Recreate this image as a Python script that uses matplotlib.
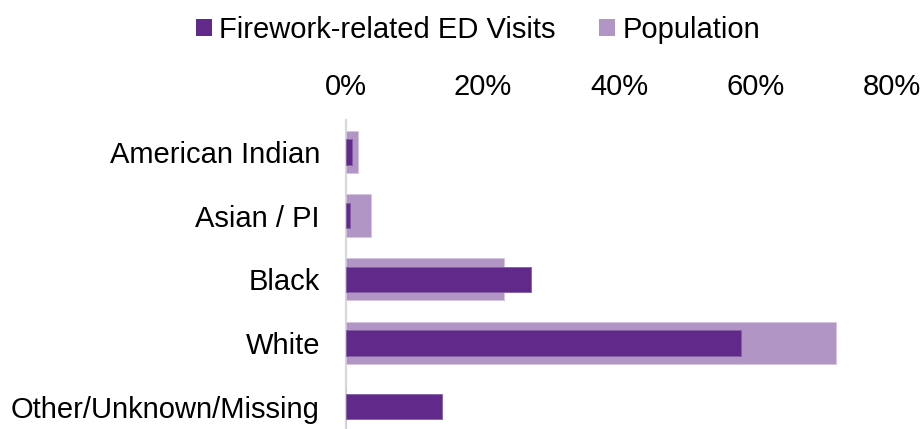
import matplotlib
matplotlib.use("Agg")
import matplotlib.pyplot as plt
from matplotlib.ticker import FuncFormatter, FixedLocator
from matplotlib.patches import Patch

plt.rcParams['font.family'] = ['Liberation Sans', 'DejaVu Sans']

categories = ["American Indian", "Asian / PI", "Black", "White", "Other/Unknown/Missing"]
ed_visits = [0.8, 0.5, 27.1, 57.9, 14.0]
population = [1.7, 3.6, 23.1, 71.8, 0.0]
tick_values = [0, 20, 40, 60, 80]
series_names = ["Firework-related ED Visits", "Population"]

dark = "#60298A"
light = "#B095C5"

fig = plt.figure(figsize=(9.23, 4.29), dpi=100)
W, H = 923, 429
x0, x1 = 346.3, 891.7
ytop, ybot = 120.0, 438.5
ax = fig.add_axes([x0 / W, 1 - ybot / H, (x1 - x0) / W, (ybot - ytop) / H])

ypos = list(range(len(categories)))
ax.barh(ypos, population, height=0.664, color=light, edgecolor="#D5C6E0", linewidth=0.6, zorder=2)
ax.barh(ypos, ed_visits, height=0.40, color=dark, edgecolor="#8460A6", linewidth=0.6, zorder=3)

ax.set_xlim(0, 80)
ax.set_ylim(len(categories) - 0.5, -0.5)
ax.set_yticks(ypos)
ax.set_yticklabels(categories)
ax.xaxis.set_major_locator(FixedLocator(tick_values))
ax.xaxis.set_major_formatter(FuncFormatter(lambda v, p: f"{v:.0f}%"))
ax.xaxis.tick_top()
ax.tick_params(axis='x', length=0, pad=13.5, labelsize=21, labelcolor="#000000")
ax.tick_params(axis='y', length=0, pad=19, labelsize=21, labelcolor="#000000")

for s in ["top", "right", "bottom"]:
    ax.spines[s].set_visible(False)
ax.spines["left"].set_color("#D9D9D9")
ax.spines["left"].set_linewidth(1.6)
ax.spines["left"].set_zorder(1)

handles = [Patch(facecolor=dark), Patch(facecolor=light)]
fig.legend(handles, series_names, loc="center", bbox_to_anchor=(478 / W, 1 - 30 / H),
           ncol=2, frameon=False, fontsize=21, handlelength=0.55, handleheight=0.55,
           handletextpad=0.25, columnspacing=1.5, borderpad=0, borderaxespad=0)

fig.savefig("out.png", dpi=100)
